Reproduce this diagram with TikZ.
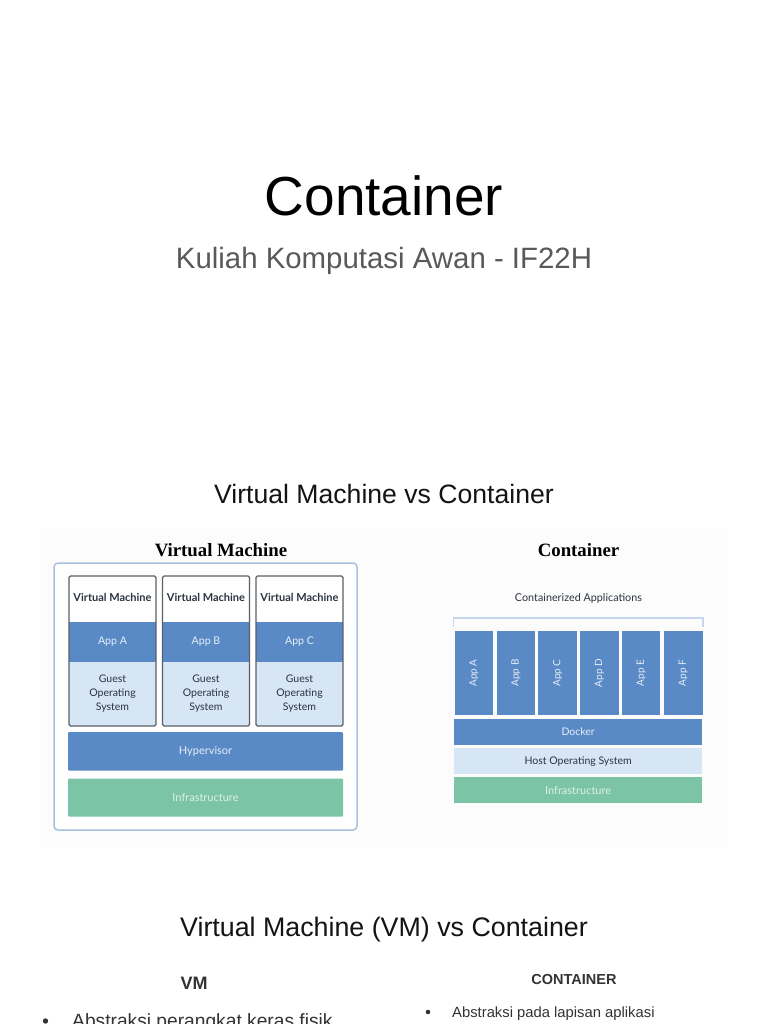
\documentclass[tikz,border=0pt]{standalone}
\usepackage{fontspec}
\setmainfont{Liberation Sans}
\newfontfamily\lato{Lato}
\newfontfamily\serifb{Liberation Serif}
\definecolor{blk}{HTML}{5A8AC6}
\definecolor{lblue}{HTML}{D6E6F5}
\definecolor{grn}{HTML}{7CC4A6}
\definecolor{dtext}{HTML}{2B3340}
\definecolor{ltext}{HTML}{E6EEF8}
\definecolor{gtext}{HTML}{DDF1E8}
\definecolor{obord}{HTML}{A9C0DE}
\definecolor{cbord}{HTML}{5A5F66}
\definecolor{brk}{HTML}{C5D8EE}
\definecolor{subg}{HTML}{595959}
\definecolor{bodyt}{HTML}{333333}
\definecolor{imgbg}{HTML}{FCFCFC}
\tikzset{
  box/.style={rectangle, inner sep=0pt, draw=none, align=center},
  bluebox/.style={box, fill=blk, text=ltext, font=\lato\fontsize{10.6}{12}\selectfont},
  lightbox/.style={box, fill=lblue, text=dtext, font=\lato\fontsize{10.5}{14.3}\selectfont},
  greenbox/.style={box, fill=grn, text=gtext, font=\lato\fontsize{10.5}{12}\selectfont},
  headbox/.style={box, fill=white, text=dtext, font=\lato\bfseries\fontsize{11}{13}\selectfont},
  colframe/.style={rectangle, inner sep=0pt, draw=cbord, line width=1.1pt, rounded corners=1.5pt},
  vmcol/.style={minimum width=87pt},
  capp/.style={bluebox, minimum width=38.6pt, minimum height=84pt},
  serhead/.style={font=\serifb\bfseries\fontsize{18.8}{22}\selectfont, text=black},
  bul/.style={circle, fill=bodyt, inner sep=0pt},
}
\begin{document}
\begin{tikzpicture}[x=1pt,y=-1pt]
\useasboundingbox (0,0) rectangle (768,1024);
\clip (0,0) rectangle (768,1024);
\fill[white] (0,0) rectangle (768,1024);

% titles
\node[anchor=base, text=black, font=\fontsize{55}{60}\selectfont] (title) at (384,216) {Container};
\node[anchor=base, text=subg, font=\fontsize{29.4}{32}\selectfont] (sub) at (384,268) {Kuliah Komputasi Awan - IF22H};
\node[anchor=base, text=black!92, font=\fontsize{26.6}{30}\selectfont] (h1) at (384,503) {Virtual Machine vs Container};

% faint image background
\fill[imgbg] (40,528) rectangle (728,848);

% ---------- VM diagram ----------
\node[serhead] (vmtitle) at (221,550) {Virtual Machine};
\draw[obord, line width=1.5pt, fill=white, rounded corners=4pt] (54,563) rectangle (357,830);

\foreach \n/\cx/\ap in {1/112.5/A, 2/206/B, 3/299.5/C}{
  \node[headbox, vmcol, minimum height=46pt] (vmh\n) at (\cx,597) {Virtual Machine};
  \node[bluebox, vmcol, minimum height=39.5pt] (app\n) at (\cx,641.75) {App \ap};
  \node[lightbox, vmcol, minimum height=64.5pt] (gos\n) at (\cx,693.75) {Guest\\Operating\\System};
  \node[colframe, minimum width=87pt, minimum height=150pt] (col\n) at (\cx,651) {};
}
\node[bluebox, minimum width=275pt, minimum height=38.5pt, rounded corners=1pt, font=\lato\fontsize{11}{12}\selectfont] (hyp) at (205.5,751.25) {Hypervisor};
\node[greenbox, minimum width=275pt, minimum height=38pt, rounded corners=1pt, font=\lato\fontsize{11}{12}\selectfont] (infvm) at (205.5,797.5) {Infrastructure};

% ---------- Container diagram ----------
\node[serhead] (ctitle) at (578.5,550) {Container};
\node[text=dtext, font=\lato\fontsize{10.8}{12}\selectfont] (capps) at (578.5,598) {Containerized Applications};
\coordinate (bl) at (453.5,627);
\coordinate (br) at (703,627);
\draw[brk, line width=1.5pt] (bl) -- (453.5,618) -- (703,618) -- (br);

\foreach \n/\cx/\ap in {1/474/A, 2/515.85/B, 3/557.65/C, 4/599.35/D, 5/641.15/E, 6/683.2/F}{
  \node[capp] (capp\n) at (\cx,673) {};
  \node[rotate=90, text=ltext, font=\lato\fontsize{10}{11}\selectfont] (cappl\n) at (capp\n.center) {App \ap};
}
\node[bluebox, minimum width=248.3pt, minimum height=26.3pt, font=\lato\fontsize{10.5}{12}\selectfont] (docker) at (578.15,731.85) {Docker};
\node[lightbox, minimum width=248.3pt, minimum height=26pt, font=\lato\fontsize{10.5}{12}\selectfont] (hos) at (578.15,761.3) {Host Operating System};
\node[greenbox, minimum width=248.3pt, minimum height=26pt, font=\lato\fontsize{11}{12}\selectfont] (infc) at (578.15,790.3) {Infrastructure};

% ---------- comparison ----------
\node[anchor=base, text=black!92, font=\fontsize{26.8}{30}\selectfont] (h2) at (384,936) {Virtual Machine (VM) vs Container};
\node[anchor=base, text=bodyt, font=\bfseries\fontsize{18}{20}\selectfont] (vmhd) at (194,989) {VM};
\node[anchor=base, text=bodyt, font=\bfseries\fontsize{14.5}{16}\selectfont] (cthd) at (574,984) {CONTAINER};

\node[bul, minimum size=5.4pt] (b1) at (45.5,1021) {};
\node[anchor=base west, inner sep=0pt, text=bodyt, font=\fontsize{19.2}{22}\selectfont] (t1) at (72,1027) {Abstraksi perangkat keras fisik};
\node[bul, minimum size=4.6pt] (b2) at (428,1012) {};
\node[anchor=base west, inner sep=0pt, text=bodyt, font=\fontsize{14.8}{17}\selectfont] (t2) at (452,1017) {Abstraksi pada lapisan aplikasi};
\end{tikzpicture}
\end{document}
